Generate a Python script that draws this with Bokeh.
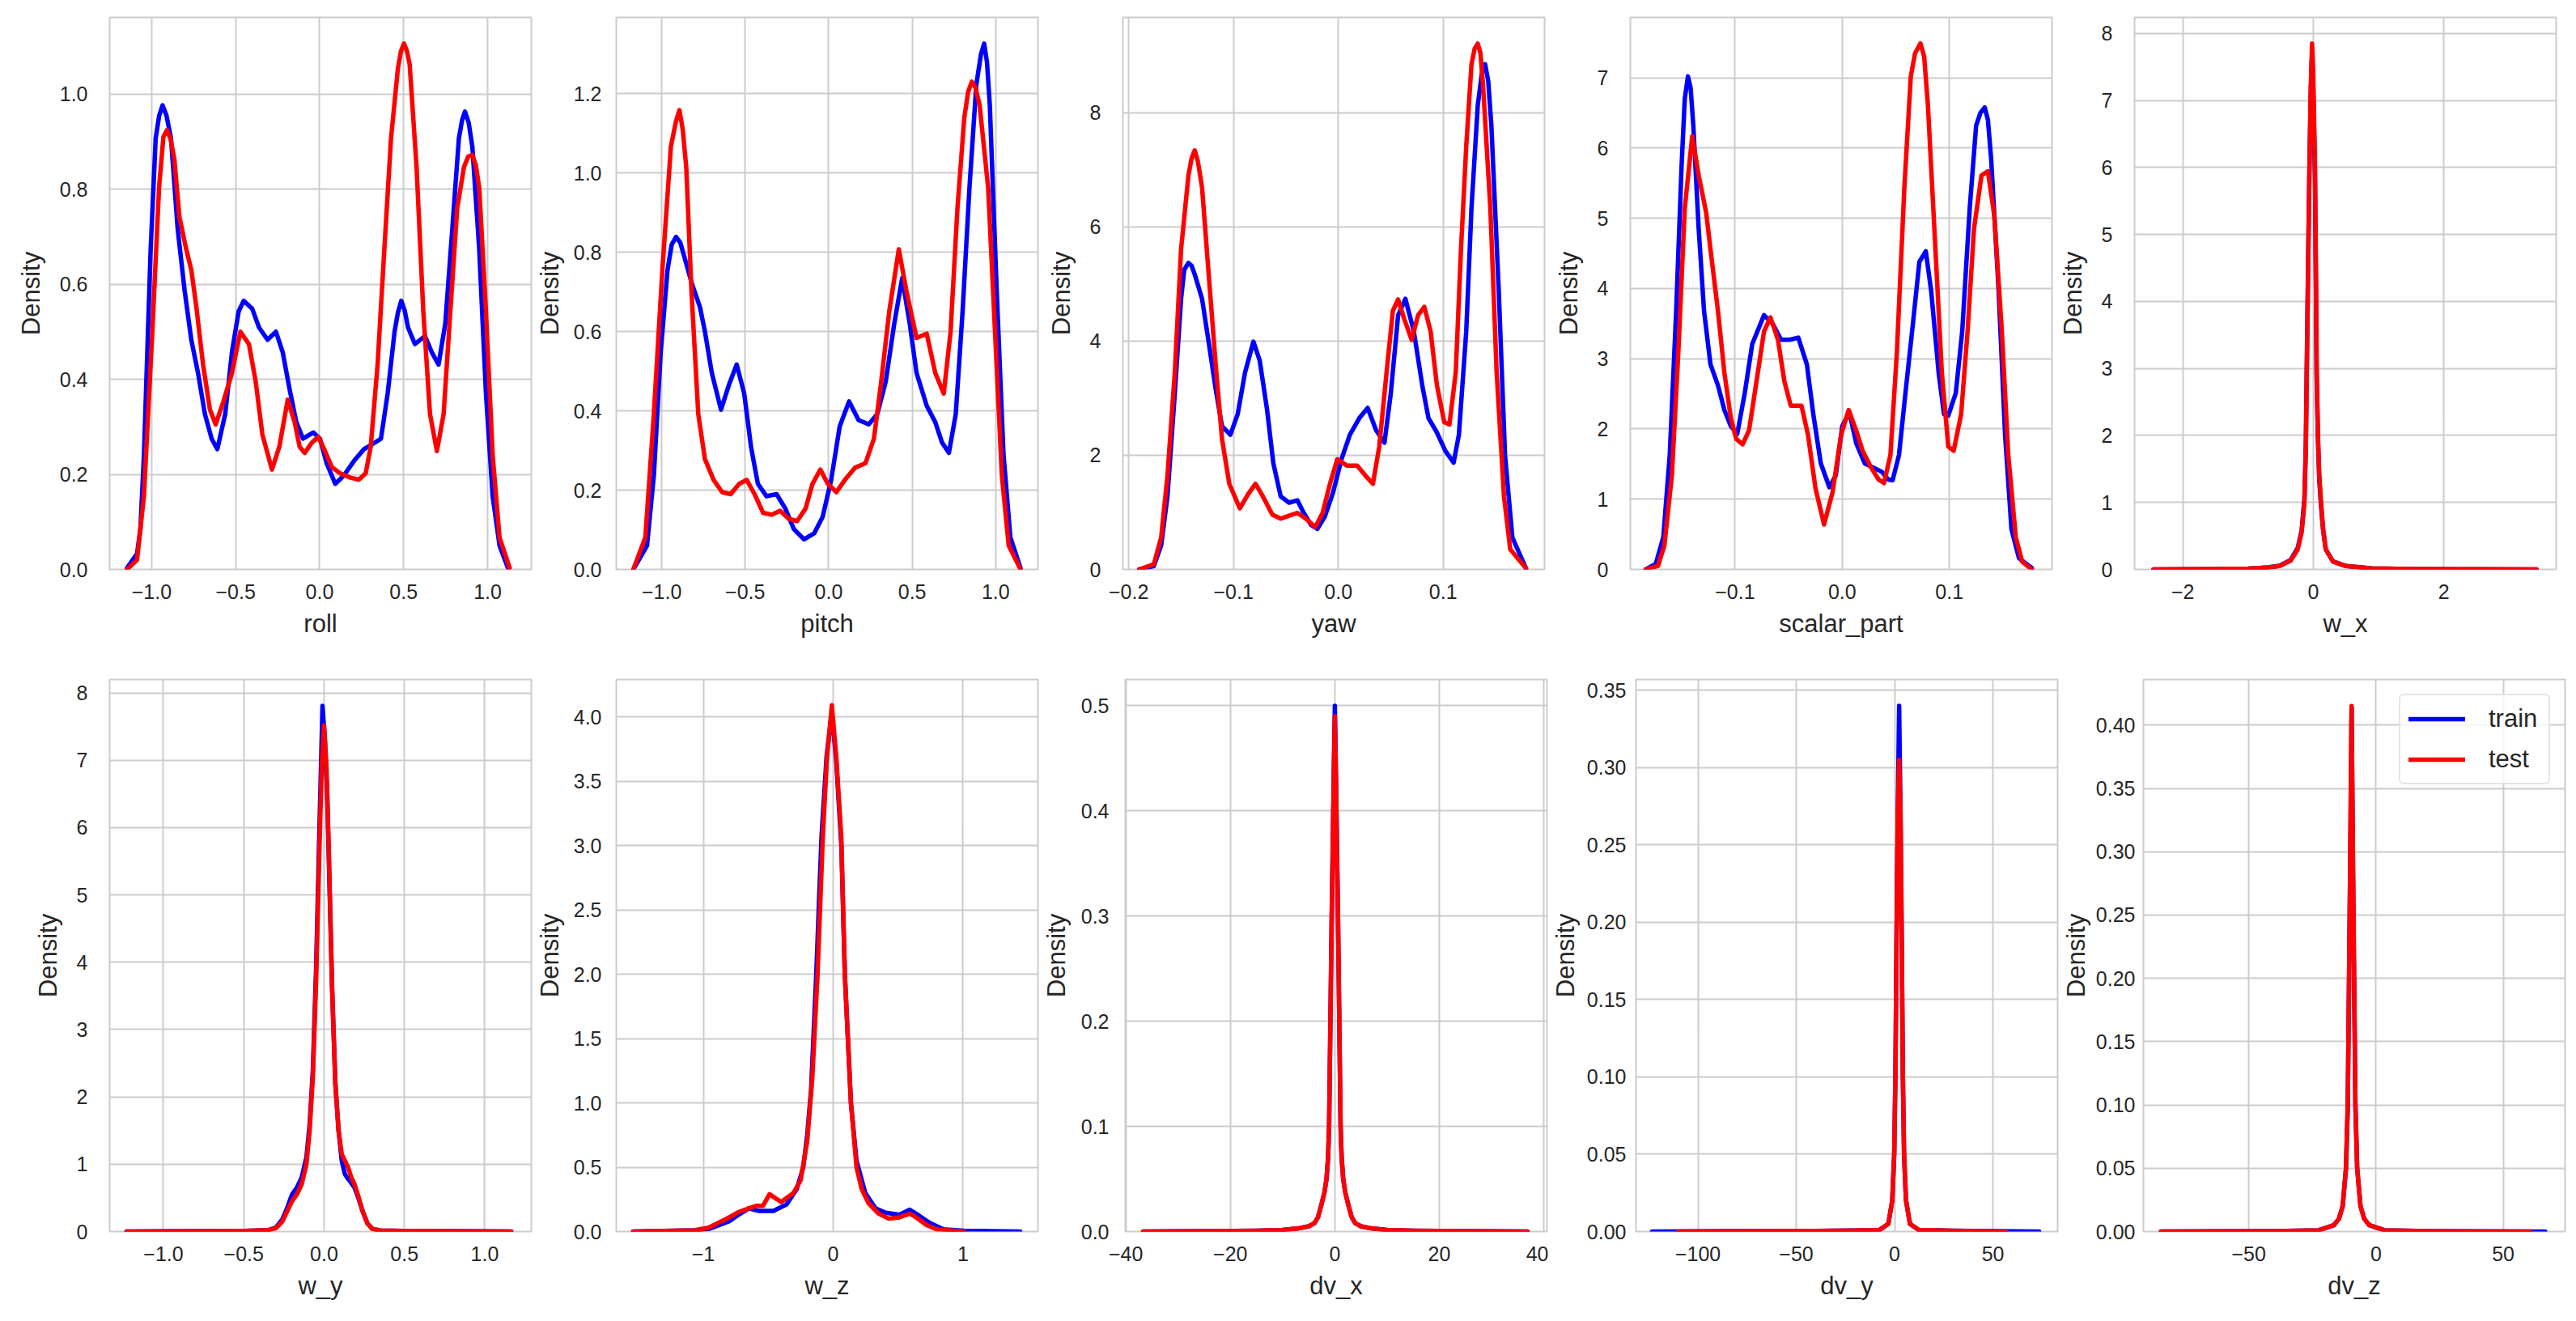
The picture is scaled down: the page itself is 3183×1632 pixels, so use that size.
from bokeh.plotting import figure
from bokeh.layouts import column, row
from bokeh.models import FixedTicker, Range1d, Legend, LegendItem
from bokeh.embed import file_html
from bokeh.resources import INLINE

# ---------------- data ----------------
feature_names = ["roll", "pitch", "yaw", "scalar_part", "w_x",
                 "w_y", "w_z", "dv_x", "dv_y", "dv_z"]
series_names = ["train", "test"]

roll_train = [(-1.147, 0.003), (-1.087, 0.033), (-1.067, 0.085), (-1.046, 0.240), (-1.006, 0.673),
              (-0.976, 0.907), (-0.955, 0.955), (-0.935, 0.976), (-0.912, 0.955), (-0.885, 0.907),
              (-0.845, 0.716), (-0.804, 0.587),
              (-0.764, 0.483), (-0.724, 0.413), (-0.683, 0.327), (-0.643, 0.275), (-0.609, 0.253),
              (-0.562, 0.327), (-0.522, 0.457), (-0.482, 0.543), (-0.452, 0.565), (-0.401, 0.548),
              (-0.361, 0.509), (-0.310, 0.483), (-0.260, 0.500), (-0.220, 0.457), (-0.179, 0.379),
              (-0.139, 0.310), (-0.099, 0.275), (-0.038, 0.288), (0.002, 0.275), (0.042, 0.223),
              (0.093, 0.180), (0.143, 0.197), (0.204, 0.228), (0.264, 0.253), (0.325, 0.266),
              (0.365, 0.275), (0.405, 0.370), (0.446, 0.500), (0.466, 0.540), (0.486, 0.565),
              (0.506, 0.545), (0.526, 0.509),
              (0.567, 0.474), (0.627, 0.491), (0.667, 0.457), (0.708, 0.431), (0.748, 0.517),
              (0.788, 0.708), (0.829, 0.907), (0.848, 0.945), (0.865, 0.963), (0.887, 0.940),
              (0.909, 0.889), (0.950, 0.673),
              (0.990, 0.370), (1.030, 0.154), (1.071, 0.050), (1.121, 0.003)]
roll_test = [(-1.147, 0.0), (-1.087, 0.020), (-1.046, 0.154), (-0.996, 0.500), (-0.956, 0.803),
             (-0.930, 0.910), (-0.909, 0.924), (-0.887, 0.905), (-0.865, 0.863), (-0.835, 0.742),
             (-0.794, 0.673), (-0.764, 0.630),
             (-0.734, 0.552), (-0.694, 0.431), (-0.653, 0.336), (-0.619, 0.305), (-0.573, 0.353),
             (-0.522, 0.413), (-0.472, 0.500), (-0.421, 0.474), (-0.381, 0.396), (-0.341, 0.284),
             (-0.284, 0.210), (-0.240, 0.258), (-0.190, 0.357), (-0.149, 0.310), (-0.119, 0.258),
             (-0.089, 0.245), (-0.048, 0.266), (-0.008, 0.279), (0.032, 0.249), (0.073, 0.215),
             (0.123, 0.202), (0.183, 0.193), (0.234, 0.189), (0.274, 0.202), (0.304, 0.258),
             (0.345, 0.431), (0.385, 0.673), (0.425, 0.907), (0.466, 1.054), (0.484, 1.090),
             (0.502, 1.106), (0.520, 1.090),
             (0.536, 1.062), (0.577, 0.846), (0.617, 0.543), (0.657, 0.327), (0.698, 0.249),
             (0.738, 0.327), (0.778, 0.543), (0.819, 0.760), (0.859, 0.846), (0.884, 0.868),
             (0.909, 0.872), (0.930, 0.850),
             (0.950, 0.803), (0.990, 0.543), (1.030, 0.240), (1.071, 0.067), (1.131, 0.003)]

pitch_train = [(-1.170, 0.0), (-1.088, 0.060), (-1.047, 0.237), (-1.006, 0.548), (-0.965, 0.756),
               (-0.940, 0.820), (-0.914, 0.839), (-0.889, 0.825), (-0.863, 0.787), (-0.822, 0.725),
               (-0.771, 0.662), (-0.741, 0.600),
               (-0.700, 0.496), (-0.645, 0.403), (-0.598, 0.465), (-0.551, 0.517), (-0.506, 0.444),
               (-0.465, 0.309), (-0.424, 0.216), (-0.373, 0.185), (-0.312, 0.190), (-0.260, 0.154),
               (-0.209, 0.102), (-0.148, 0.076), (-0.087, 0.091), (-0.036, 0.133), (0.015, 0.226),
               (0.066, 0.361), (0.122, 0.424), (0.179, 0.377), (0.240, 0.366), (0.291, 0.392),
               (0.342, 0.475), (0.393, 0.621), (0.440, 0.735), (0.485, 0.621), (0.526, 0.496),
               (0.587, 0.413), (0.638, 0.372), (0.679, 0.320), (0.720, 0.294), (0.761, 0.392),
               (0.802, 0.652), (0.843, 0.963), (0.884, 1.223), (0.912, 1.300), (0.931, 1.327),
               (0.948, 1.280), (0.965, 1.171),
               (1.006, 0.704), (1.047, 0.289), (1.088, 0.081), (1.149, 0.003)]
pitch_test = [(-1.170, 0.0), (-1.098, 0.081), (-1.047, 0.392), (-0.996, 0.756), (-0.945, 1.067),
              (-0.915, 1.130), (-0.894, 1.159), (-0.874, 1.110), (-0.853, 1.015), (-0.822, 0.704),
              (-0.781, 0.392), (-0.741, 0.278),
              (-0.689, 0.226), (-0.638, 0.195), (-0.587, 0.190), (-0.536, 0.216), (-0.491, 0.226),
              (-0.444, 0.190), (-0.393, 0.143), (-0.342, 0.138), (-0.291, 0.148), (-0.240, 0.128),
              (-0.189, 0.122), (-0.138, 0.154), (-0.097, 0.216), (-0.050, 0.252), (-0.005, 0.216),
              (0.046, 0.195), (0.097, 0.226), (0.158, 0.257), (0.220, 0.268), (0.271, 0.330),
              (0.312, 0.465), (0.363, 0.652), (0.420, 0.808), (0.465, 0.704), (0.526, 0.584),
              (0.587, 0.595), (0.638, 0.496), (0.689, 0.444), (0.730, 0.600), (0.771, 0.911),
              (0.812, 1.140), (0.835, 1.205), (0.857, 1.231), (0.880, 1.215), (0.904, 1.171),
              (0.955, 0.963), (0.996, 0.600),
              (1.037, 0.237), (1.078, 0.060), (1.149, 0.0)]

yaw_train = [(-0.190, 0.0), (-0.176, 0.06), (-0.169, 0.42), (-0.163, 1.28), (-0.156, 3.08),
             (-0.150, 4.74), (-0.147, 5.25), (-0.143, 5.37), (-0.140, 5.32), (-0.137, 5.17),
             (-0.130, 4.74), (-0.124, 4.02),
             (-0.117, 3.16), (-0.111, 2.51), (-0.103, 2.36), (-0.096, 2.72), (-0.089, 3.45),
             (-0.081, 3.99), (-0.075, 3.66), (-0.068, 2.80), (-0.062, 1.86), (-0.055, 1.28),
             (-0.047, 1.17), (-0.039, 1.21), (-0.033, 0.99), (-0.026, 0.78), (-0.020, 0.71),
             (-0.013, 0.92), (-0.005, 1.35), (0.003, 1.93), (0.011, 2.36), (0.020, 2.65),
             (0.028, 2.83), (0.036, 2.44), (0.044, 2.22), (0.050, 3.08), (0.057, 4.45),
             (0.064, 4.74), (0.072, 4.17), (0.080, 3.23), (0.086, 2.65), (0.094, 2.40),
             (0.102, 2.08), (0.110, 1.87), (0.115, 2.36), (0.122, 4.17), (0.127, 6.33),
             (0.133, 8.13), (0.137, 8.70), (0.140, 8.85), (0.143, 8.55), (0.146, 7.77),
             (0.153, 4.89), (0.159, 2.00),
             (0.166, 0.56), (0.179, 0.02)]
yaw_test = [(-0.190, 0.0), (-0.176, 0.09), (-0.169, 0.56), (-0.163, 1.64), (-0.156, 3.45),
            (-0.150, 5.61), (-0.143, 6.90), (-0.140, 7.20), (-0.137, 7.34), (-0.134, 7.15),
            (-0.130, 6.69), (-0.124, 5.25),
            (-0.117, 3.59), (-0.111, 2.29), (-0.104, 1.50), (-0.094, 1.07), (-0.086, 1.32),
            (-0.079, 1.50), (-0.072, 1.28), (-0.063, 0.96), (-0.055, 0.89), (-0.047, 0.94),
            (-0.039, 0.99), (-0.031, 0.89), (-0.022, 0.74), (-0.015, 0.99), (-0.008, 1.50),
            (-0.001, 1.93), (0.008, 1.82), (0.018, 1.82), (0.026, 1.64), (0.033, 1.50),
            (0.039, 2.15), (0.046, 3.45), (0.052, 4.53), (0.057, 4.73), (0.063, 4.38),
            (0.070, 4.02), (0.076, 4.45), (0.082, 4.60), (0.088, 4.17), (0.094, 3.23),
            (0.101, 2.58), (0.106, 2.54), (0.112, 3.45), (0.117, 5.61), (0.122, 7.41),
            (0.127, 8.85), (0.130, 9.12), (0.133, 9.21), (0.1355, 9.05), (0.138, 8.49),
            (0.145, 6.33), (0.151, 3.45),
            (0.158, 1.28), (0.164, 0.35), (0.179, 0.02)]

scalar_train = [(-0.1834, 0.0), (-0.174, 0.08), (-0.167, 0.46), (-0.161, 1.63), (-0.155, 3.68),
                (-0.150, 5.73), (-0.147, 6.70), (-0.144, 7.02), (-0.1415, 6.85), (-0.139, 6.32),
                (-0.134, 4.85), (-0.129, 3.68),
                (-0.123, 2.92), (-0.116, 2.62), (-0.110, 2.27), (-0.104, 2.04), (-0.098, 1.93),
                (-0.091, 2.51), (-0.084, 3.21), (-0.073, 3.62), (-0.065, 3.50), (-0.057, 3.27),
                (-0.049, 3.27), (-0.041, 3.30), (-0.033, 2.92), (-0.027, 2.21), (-0.020, 1.51),
                (-0.012, 1.17), (-0.006, 1.34), (0.000, 2.04), (0.0067, 2.24), (0.013, 1.80),
                (0.021, 1.51), (0.029, 1.45), (0.037, 1.39), (0.043, 1.28), (0.047, 1.27),
                (0.053, 1.63), (0.059, 2.51), (0.066, 3.50), (0.072, 4.38), (0.078, 4.53),
                (0.083, 3.97), (0.090, 2.80), (0.095, 2.21), (0.099, 2.19), (0.106, 2.51),
                (0.112, 3.39), (0.119, 5.14), (0.125, 6.32), (0.129, 6.50), (0.133, 6.58),
                (0.136, 6.40), (0.139, 5.85),
                (0.146, 3.97), (0.152, 1.92), (0.158, 0.57), (0.165, 0.16), (0.177, 0.02)]
scalar_test = [(-0.1834, 0.0), (-0.172, 0.05), (-0.166, 0.34), (-0.159, 1.34), (-0.153, 3.09),
               (-0.147, 5.14), (-0.140, 6.17), (-0.134, 5.61), (-0.127, 5.08), (-0.123, 4.56),
               (-0.116, 3.68), (-0.110, 2.80), (-0.104, 2.16), (-0.099, 1.86), (-0.093, 1.78),
               (-0.087, 1.98), (-0.080, 2.68), (-0.073, 3.39), (-0.067, 3.59), (-0.060, 3.27),
               (-0.054, 2.68), (-0.048, 2.33), (-0.038, 2.33), (-0.032, 1.92), (-0.025, 1.16),
               (-0.017, 0.64), (-0.009, 1.10), (-0.001, 1.92), (0.006, 2.27), (0.013, 1.98),
               (0.019, 1.69), (0.027, 1.45), (0.034, 1.28), (0.039, 1.23), (0.045, 1.63),
               (0.051, 3.09), (0.058, 5.44), (0.064, 7.02), (0.068, 7.35), (0.073, 7.49),
               (0.0765, 7.30), (0.080, 6.61),
               (0.087, 4.56), (0.093, 2.80), (0.099, 1.75), (0.104, 1.69), (0.111, 2.21),
               (0.117, 3.39), (0.123, 4.85), (0.130, 5.61), (0.136, 5.67), (0.142, 5.03),
               (0.149, 3.39), (0.155, 1.63), (0.162, 0.46), (0.168, 0.11), (0.177, 0.0)]

wx_train = [(-2.45, 0.0), (-1.5, 0.006), (-1.0, 0.012), (-0.7, 0.03), (-0.52, 0.055), (-0.35, 0.14),
            (-0.24, 0.32), (-0.18, 0.58), (-0.137, 1.05), (-0.115, 1.9), (-0.1, 3.1), (-0.08, 4.6),
            (-0.06, 6.0), (-0.04, 7.1), (-0.025, 7.6), (-0.005, 7.3), (0.01, 6.6), (0.025, 5.8),
            (0.04, 4.2), (0.05, 2.9), (0.07, 1.95), (0.09, 1.35), (0.117, 0.95), (0.15, 0.58),
            (0.19, 0.3), (0.3, 0.12), (0.5, 0.05), (0.9, 0.015), (1.5, 0.006), (2.5, 0.003), (3.42, 0.0)]
wx_test = [(-2.45, 0.0), (-1.5, 0.006), (-1.0, 0.012), (-0.7, 0.03), (-0.52, 0.05), (-0.35, 0.13),
           (-0.24, 0.3), (-0.18, 0.55), (-0.137, 1.0), (-0.115, 1.8), (-0.1, 3.0), (-0.08, 4.5),
           (-0.06, 6.0), (-0.04, 7.2), (-0.02, 7.85), (-0.005, 7.5), (0.01, 6.8), (0.025, 6.0),
           (0.04, 4.3), (0.05, 3.0), (0.07, 2.0), (0.09, 1.4), (0.117, 1.0), (0.15, 0.6),
           (0.19, 0.3), (0.3, 0.12), (0.5, 0.05), (0.9, 0.015), (1.5, 0.006), (2.5, 0.003), (3.42, 0.0)]

wy_train = [(-1.23, 0.0), (-0.8, 0.005), (-0.5, 0.01), (-0.35, 0.02), (-0.3, 0.06), (-0.26, 0.18),
            (-0.23, 0.35), (-0.2, 0.55), (-0.17, 0.65), (-0.14, 0.8), (-0.11, 1.1), (-0.09, 1.6),
            (-0.07, 2.4), (-0.05, 3.9), (-0.03, 5.9), (-0.01, 7.81), (0.005, 7.3), (0.02, 6.4),
            (0.035, 5.0), (0.05, 3.6), (0.07, 2.2), (0.09, 1.5), (0.11, 1.05), (0.13, 0.85),
            (0.15, 0.78), (0.17, 0.72), (0.19, 0.65), (0.21, 0.52), (0.24, 0.3), (0.27, 0.12),
            (0.3, 0.04), (0.35, 0.015), (0.5, 0.01), (0.8, 0.005), (1.165, 0.0)]
wy_test = [(-1.23, 0.0), (-0.8, 0.005), (-0.5, 0.01), (-0.35, 0.02), (-0.3, 0.05), (-0.26, 0.15),
           (-0.23, 0.3), (-0.2, 0.45), (-0.17, 0.55), (-0.14, 0.7), (-0.11, 1.0), (-0.09, 1.5),
           (-0.07, 2.3), (-0.05, 3.7), (-0.03, 5.6), (-0.015, 6.9), (0.0, 7.52), (0.015, 6.9),
           (0.03, 5.6), (0.05, 3.6), (0.07, 2.2), (0.09, 1.5), (0.11, 1.15), (0.13, 1.05),
           (0.15, 0.95), (0.17, 0.8), (0.19, 0.7), (0.21, 0.55), (0.24, 0.3), (0.27, 0.12),
           (0.3, 0.04), (0.35, 0.015), (0.5, 0.01), (0.8, 0.005), (1.165, 0.0)]

wz_train = [(-1.54, 0.0), (-1.07, 0.01), (-0.96, 0.02), (-0.88, 0.05), (-0.80, 0.08), (-0.73, 0.13),
            (-0.65, 0.18), (-0.57, 0.16), (-0.46, 0.16), (-0.36, 0.21), (-0.28, 0.33), (-0.23, 0.5),
            (-0.20, 0.75), (-0.17, 1.1), (-0.13, 2.0), (-0.09, 3.06), (-0.05, 3.7), (-0.01, 4.03),
            (0.024, 3.65), (0.063, 3.0), (0.09, 2.0), (0.137, 1.0), (0.18, 0.55), (0.247, 0.3),
            (0.326, 0.18), (0.405, 0.146), (0.51, 0.13), (0.59, 0.17), (0.667, 0.12), (0.746, 0.066),
            (0.85, 0.017), (1.01, 0.007), (1.44, 0.0)]
wz_test = [(-1.54, 0.0), (-1.07, 0.01), (-0.96, 0.03), (-0.88, 0.07), (-0.80, 0.11), (-0.73, 0.15),
           (-0.65, 0.18), (-0.59, 0.2), (-0.54, 0.2), (-0.49, 0.29), (-0.40, 0.23), (-0.305, 0.30),
           (-0.25, 0.40), (-0.20, 0.70), (-0.16, 1.2), (-0.12, 2.0), (-0.08, 3.06), (-0.047, 3.69),
           (-0.01, 4.09), (0.024, 3.69), (0.063, 3.06), (0.09, 2.0), (0.137, 1.0), (0.18, 0.5),
           (0.22, 0.33), (0.273, 0.22), (0.35, 0.14), (0.43, 0.10), (0.51, 0.11), (0.59, 0.14),
           (0.64, 0.11), (0.72, 0.05), (0.80, 0.017), (1.01, 0.0)]

dvx_train = [(-36.7, 0.0), (-25, 0.0003), (-15, 0.0008), (-10, 0.0015), (-7, 0.003), (-5, 0.005),
             (-3.9, 0.008), (-3.2, 0.014), (-2.6, 0.025), (-2.0, 0.037), (-1.6, 0.05), (-1.3, 0.07),
             (-1.1, 0.1), (-0.85, 0.2), (-0.6, 0.3), (-0.4, 0.37), (-0.2, 0.44), (0.0, 0.5),
             (0.2, 0.44), (0.4, 0.37), (0.6, 0.3), (0.85, 0.2), (1.1, 0.1), (1.3, 0.07), (1.6, 0.05),
             (2.0, 0.037), (2.6, 0.025), (3.2, 0.014), (3.9, 0.008), (5, 0.005), (7, 0.003),
             (10, 0.0015), (15, 0.0008), (25, 0.0003), (36.9, 0.0)]
dvx_test = [(-36.7, 0.0), (-25, 0.0003), (-15, 0.0008), (-10, 0.0015), (-7, 0.003), (-5, 0.005),
            (-3.9, 0.008), (-3.2, 0.014), (-2.6, 0.025), (-2.0, 0.037), (-1.6, 0.05), (-1.3, 0.07),
            (-1.1, 0.1), (-0.85, 0.2), (-0.6, 0.3), (-0.4, 0.36), (-0.2, 0.43), (0.0, 0.49),
            (0.2, 0.43), (0.4, 0.36), (0.6, 0.3), (0.85, 0.2), (1.1, 0.1), (1.3, 0.07), (1.6, 0.05),
            (2.0, 0.037), (2.6, 0.025), (3.2, 0.014), (3.9, 0.008), (5, 0.005), (7, 0.003),
            (10, 0.0015), (15, 0.0008), (25, 0.0003), (36.9, 0.0)]

dvy_train = [(-123.3, 0.0), (-80, 0.0002), (-40, 0.0004), (-20, 0.0007), (-7.7, 0.001),
             (-3.2, 0.005), (-1.2, 0.02), (-0.2, 0.05), (0.4, 0.1), (1.0, 0.19), (1.6, 0.27),
             (2.3, 0.34), (3.0, 0.27), (3.6, 0.19), (4.2, 0.1), (4.8, 0.05), (5.8, 0.02),
             (7.8, 0.005), (12.3, 0.001), (30, 0.0005), (73.5, 0.0)]
dvy_test = [(-110.0, 0.0), (-80, 0.0002), (-40, 0.0004), (-20, 0.0007), (-7.7, 0.001),
            (-3.2, 0.005), (-1.2, 0.02), (-0.2, 0.05), (0.4, 0.1), (1.0, 0.19), (1.6, 0.27),
            (2.3, 0.305), (3.0, 0.27), (3.6, 0.19), (4.2, 0.1), (4.8, 0.05), (5.8, 0.02),
            (7.8, 0.005), (12.3, 0.001), (30, 0.0005), (56.5, 0.0)]

dvz_train = [(-84.5, 0.0), (-39.6, 0.0003), (-22.6, 0.001), (-16.6, 0.005), (-14.6, 0.01),
             (-13.1, 0.02), (-11.8, 0.05), (-11.1, 0.1), (-10.6, 0.2), (-10.1, 0.3), (-9.6, 0.414),
             (-9.1, 0.3), (-8.6, 0.2), (-8.1, 0.1), (-7.4, 0.05), (-6.1, 0.02), (-4.6, 0.01),
             (-2.6, 0.005), (3.4, 0.001), (20.4, 0.0003), (66.5, 0.0)]
dvz_test = [(-84.5, 0.0), (-39.6, 0.0003), (-22.6, 0.001), (-16.6, 0.005), (-14.6, 0.01),
            (-13.1, 0.02), (-11.8, 0.05), (-11.1, 0.1), (-10.6, 0.2), (-10.1, 0.3), (-9.6, 0.415),
            (-9.1, 0.3), (-8.6, 0.2), (-8.1, 0.1), (-7.4, 0.05), (-6.1, 0.02), (-4.6, 0.01),
            (-2.6, 0.005), (3.4, 0.001), (20.4, 0.0003), (60.7, 0.0)]

train_curves = [roll_train, pitch_train, yaw_train, scalar_train, wx_train,
                wy_train, wz_train, dvx_train, dvy_train, dvz_train]
test_curves = [roll_test, pitch_test, yaw_test, scalar_test, wx_test,
               wy_test, wz_test, dvx_test, dvy_test, dvz_test]

# tick values and tick labels
x_ticks = [[-1.0, -0.5, 0.0, 0.5, 1.0], [-1.0, -0.5, 0.0, 0.5, 1.0], [-0.2, -0.1, 0.0, 0.1],
           [-0.1, 0.0, 0.1], [-2, 0, 2], [-1.0, -0.5, 0.0, 0.5, 1.0], [-1, 0, 1],
           [-40, -20, 0, 20, 40], [-100, -50, 0, 50], [-50, 0, 50]]
x_tick_labels = [["\u22121.0", "\u22120.5", "0.0", "0.5", "1.0"],
                 ["\u22121.0", "\u22120.5", "0.0", "0.5", "1.0"],
                 ["\u22120.2", "\u22120.1", "0.0", "0.1"],
                 ["\u22120.1", "0.0", "0.1"],
                 ["\u22122", "0", "2"],
                 ["\u22121.0", "\u22120.5", "0.0", "0.5", "1.0"],
                 ["\u22121", "0", "1"],
                 ["\u221240", "\u221220", "0", "20", "40"],
                 ["\u2212100", "\u221250", "0", "50"],
                 ["\u221250", "0", "50"]]
y_ticks = [[0.0, 0.2, 0.4, 0.6, 0.8, 1.0],
           [0.0, 0.2, 0.4, 0.6, 0.8, 1.0, 1.2],
           [0, 2, 4, 6, 8],
           [0, 1, 2, 3, 4, 5, 6, 7],
           [0, 1, 2, 3, 4, 5, 6, 7, 8],
           [0, 1, 2, 3, 4, 5, 6, 7, 8],
           [0.0, 0.5, 1.0, 1.5, 2.0, 2.5, 3.0, 3.5, 4.0],
           [0.0, 0.1, 0.2, 0.3, 0.4, 0.5],
           [0.0, 0.05, 0.1, 0.15, 0.2, 0.25, 0.3, 0.35],
           [0.0, 0.05, 0.1, 0.15, 0.2, 0.25, 0.3, 0.35, 0.4]]
y_tick_labels = [["0.0", "0.2", "0.4", "0.6", "0.8", "1.0"],
                 ["0.0", "0.2", "0.4", "0.6", "0.8", "1.0", "1.2"],
                 ["0", "2", "4", "6", "8"],
                 ["0", "1", "2", "3", "4", "5", "6", "7"],
                 ["0", "1", "2", "3", "4", "5", "6", "7", "8"],
                 ["0", "1", "2", "3", "4", "5", "6", "7", "8"],
                 ["0.0", "0.5", "1.0", "1.5", "2.0", "2.5", "3.0", "3.5", "4.0"],
                 ["0.0", "0.1", "0.2", "0.3", "0.4", "0.5"],
                 ["0.00", "0.05", "0.10", "0.15", "0.20", "0.25", "0.30", "0.35"],
                 ["0.00", "0.05", "0.10", "0.15", "0.20", "0.25", "0.30", "0.35", "0.40"]]

# visible axis extents
x_ranges = [(-1.25, 1.26), (-1.272, 1.253), (-0.2055, 0.1967), (-0.1978, 0.1958), (-2.74, 3.72),
            (-1.335, 1.29), (-1.67, 1.577), (-40.1, 40.6), (-131.5, 82.9), (-91.4, 74.3)]
y_ranges = [(0, 1.161), (0, 1.393), (0, 9.67), (0, 7.86), (0, 8.24),
            (0, 8.2), (0, 4.29), (0, 0.525), (0, 0.357), (0, 0.436)]

# ---------------- style / layout ----------------
FONT = "Liberation Sans"
TEXT = "#262626"
GRID = "#cccccc"
COLORS = ["#0000ff", "#ff0000"]
FRAME_W = 521
row_frame_h = [682, 682]
row_border_top = [21, 11]
row_border_bottom = [125, 95]
col_border_left = [135, 101, 103, 104, 100]
ytick_standoff = [27, 18, 27, 27, 27, 27, 18, 20, 12, 10]
ylabel_standoff = [15, 9, 15, 15, 15, 15, 9, 10, 6, 4]


def split(points):
    pts = sorted(points)
    return [p[0] for p in pts], [p[1] for p in pts]


figs = []
for i in range(10):
    r, c = divmod(i, 5)
    p = figure(frame_width=FRAME_W, frame_height=row_frame_h[r],
               min_border_left=col_border_left[c], min_border_right=2,
               min_border_top=row_border_top[r], min_border_bottom=row_border_bottom[r],
               x_range=Range1d(*x_ranges[i]), y_range=Range1d(*y_ranges[i]),
               output_backend="svg", toolbar_location=None)
    p.background_fill_color = "white"
    p.border_fill_color = "white"
    p.outline_line_color = GRID
    p.outline_line_width = 2

    xt = FixedTicker(ticks=x_ticks[i], minor_ticks=[])
    yt = FixedTicker(ticks=y_ticks[i], minor_ticks=[])
    p.xaxis[0].ticker = xt
    p.yaxis[0].ticker = yt
    p.xgrid[0].ticker = xt
    p.ygrid[0].ticker = yt
    p.xaxis[0].major_label_overrides = dict(zip(x_ticks[i], x_tick_labels[i]))
    p.yaxis[0].major_label_overrides = dict(zip(y_ticks[i], y_tick_labels[i]))

    for g in (p.xgrid[0], p.ygrid[0]):
        g.grid_line_color = GRID
        g.grid_line_width = 2

    for ax in (p.xaxis[0], p.yaxis[0]):
        ax.axis_line_color = None
        ax.major_tick_line_color = None
        ax.minor_tick_line_color = None
        ax.major_tick_out = 0
        ax.major_tick_in = 0
        ax.minor_tick_out = 0
        ax.minor_tick_in = 0
        ax.major_label_text_font = FONT
        ax.major_label_text_font_size = "25px"
        ax.major_label_text_color = TEXT
        ax.axis_label_text_font = FONT
        ax.axis_label_text_font_size = "31px"
        ax.axis_label_text_font_style = "normal"
        ax.axis_label_text_color = TEXT

    p.xaxis[0].axis_label = feature_names[i]
    p.yaxis[0].axis_label = "Density"
    p.xaxis[0].major_label_standoff = 18
    p.xaxis[0].axis_label_standoff = 10
    p.yaxis[0].major_label_standoff = ytick_standoff[i]
    p.yaxis[0].axis_label_standoff = ylabel_standoff[i]

    renderers = []
    for k, pts in enumerate((train_curves[i], test_curves[i])):
        xs, ys = split(pts)
        rr = p.line(xs, ys, line_color=COLORS[k], line_width=5.5,
                    line_join="round", line_cap="round")
        renderers.append(rr)

    if i == 9:
        legend = Legend(items=[LegendItem(label=series_names[0], renderers=[renderers[0]]),
                               LegendItem(label=series_names[1], renderers=[renderers[1]])],
                        location="top_right")
        legend.margin = 18
        legend.padding = 10
        legend.spacing = 12
        legend.glyph_width = 70
        legend.glyph_height = 38
        legend.label_height = 38
        legend.label_width = 64
        legend.label_standoff = 29
        legend.label_text_font = FONT
        legend.label_text_font_size = "31px"
        legend.label_text_color = TEXT
        legend.border_line_color = GRID
        legend.border_line_width = 2
        legend.border_radius = 6
        legend.background_fill_color = "white"
        legend.background_fill_alpha = 0.8
        p.add_layout(legend)

    figs.append(p)

layout = column(row(*figs[:5]), row(*figs[5:]))
open("out.html", "w").write(file_html(layout, INLINE))
